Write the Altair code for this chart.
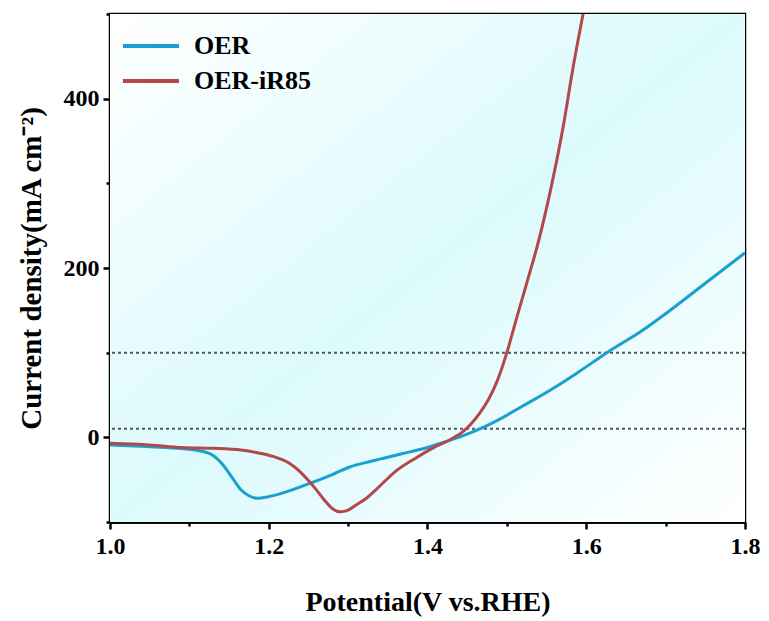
import altair as alt
import pandas as pd

# OER (blue)
oer_x = [1.00, 1.05, 1.10, 1.125, 1.14, 1.155, 1.165, 1.175, 1.185, 1.20, 1.22, 1.25,
         1.28, 1.302, 1.33, 1.365, 1.40, 1.42, 1.445, 1.466, 1.49, 1.52, 1.555, 1.59,
         1.626, 1.672, 1.70, 1.75, 1.80]
oer_y = [-9, -11, -14, -19, -30, -49, -62, -69, -72, -70, -65, -55,
         -44, -35, -28, -20, -12, -6, 2, 10, 21, 37, 56, 77,
         100, 127, 146, 182, 218]

# OER-iR85 (red)
ir_x = [1.00, 1.05, 1.09, 1.13, 1.165, 1.19, 1.21, 1.225, 1.24, 1.25, 1.26, 1.27,
        1.28, 1.29, 1.30, 1.31, 1.323, 1.335, 1.345, 1.36, 1.386, 1.41, 1.43, 1.445,
        1.466, 1.477, 1.488, 1.50, 1.512, 1.525, 1.54, 1.555, 1.57, 1.584, 1.598, 1.61]
ir_y = [-7, -9, -12, -13, -15, -19, -24, -30, -41, -51, -62, -74,
        -84, -88, -86, -80, -72, -62, -53, -40, -24, -11, -2, 7,
        29, 45, 67, 100, 140, 182, 232, 292, 362, 440, 510, 570]

ref_lines = [10, 100]
x_major = [1.0, 1.2, 1.4, 1.6, 1.8]
x_minor = [1.1, 1.3, 1.5, 1.7]
y_major = [0, 200, 400]
y_minor = [-100, 100, 300, 500]

W, H = 635, 508
FONT = "Liberation Serif"

df = pd.concat([
    pd.DataFrame({"x": oer_x, "y": oer_y, "series": "OER", "o": range(len(oer_x))}),
    pd.DataFrame({"x": ir_x, "y": ir_y, "series": "OER-iR85", "o": range(len(ir_x))}),
])
ref_df = pd.DataFrame({"y": ref_lines})

xscale = alt.Scale(domain=[1.0, 1.8], nice=False, zero=False)
yscale = alt.Scale(domain=[-100, 500], nice=False, zero=False)

axis_common = dict(domainColor="black", domainWidth=2.5, tickColor="black", tickWidth=2.5,
                   labelFont=FONT, labelFontWeight="bold", labelFontSize=24, labelColor="black",
                   titleFont=FONT, titleFontWeight="bold", titleColor="black",
                   grid=False, labelFlush=False, labelOverlap=False)
minor_common = dict(title=None, labels=False, tickSize=4, domainColor="black", domainWidth=2.5,
                    tickColor="black", tickWidth=2.5, grid=False)

bg = alt.Chart(pd.DataFrame({"a": [0]})).mark_rect(
    fill=alt.LinearGradient(
        gradient="linear",
        stops=[alt.GradientStop(color="#ffffff", offset=0),
               alt.GradientStop(color="#dcfafc", offset=0.5),
               alt.GradientStop(color="#ffffff", offset=1)],
        x1=0, y1=0, x2=1, y2=1),
).encode(x=alt.value(0), x2=alt.value(W), y=alt.value(0), y2=alt.value(H))

refs = alt.Chart(ref_df).mark_rule(color="#555555", strokeWidth=2, strokeDash=[3, 3]).encode(
    y=alt.Y("y:Q", scale=yscale, axis=None)
)

lines = alt.Chart(df).mark_line(strokeWidth=3, interpolate="monotone", clip=True).encode(
    x=alt.X("x:Q", scale=xscale,
            axis=alt.Axis(title="Potential(V vs.RHE)", values=x_major, format=".1f", orient="bottom",
                          tickSize=7, labelPadding=5, titlePadding=30, titleFontSize=28,
                          **axis_common)),
    y=alt.Y("y:Q", scale=yscale,
            axis=alt.Axis(title="Current density(mA cm⁻²)", values=y_major, format="d", orient="left",
                          tickSize=7, labelPadding=4, titlePadding=17, titleFontSize=29,
                          **axis_common)),
    color=alt.Color("series:N",
                    scale=alt.Scale(domain=["OER", "OER-iR85"], range=["#1b9fcf", "#b3484a"]),
                    legend=alt.Legend(title=None, orient="none", legendX=22, legendY=13,
                                      symbolType="M-1.65,0H1.65", symbolSize=1156,
                                      symbolStrokeWidth=4,
                                      labelFont=FONT, labelFontWeight="bold", labelFontSize=26,
                                      labelColor="black", rowPadding=3, labelOffset=24)),
    order="o:Q",
)

minor = alt.Chart(pd.DataFrame({"x": x_minor, "y": [0, 0, 0, 0]})).mark_point(opacity=0).encode(
    x=alt.X("x:Q", scale=xscale, axis=alt.Axis(values=x_minor, orient="bottom", **minor_common)),
    y=alt.Y("y:Q", scale=yscale, axis=alt.Axis(values=y_minor, orient="left", **minor_common)),
)

chart = alt.layer(bg, refs, lines, minor).resolve_axis(x="independent", y="independent").properties(
    width=W, height=H,
    autosize=alt.AutoSizeParams(type="none"),
    padding={"left": 110, "top": 14, "right": 24, "bottom": 99},
    background="white",
).configure_view(stroke="black", strokeWidth=2.5)

chart.save("out.html", embed_options={"renderer": "svg", "actions": False})
